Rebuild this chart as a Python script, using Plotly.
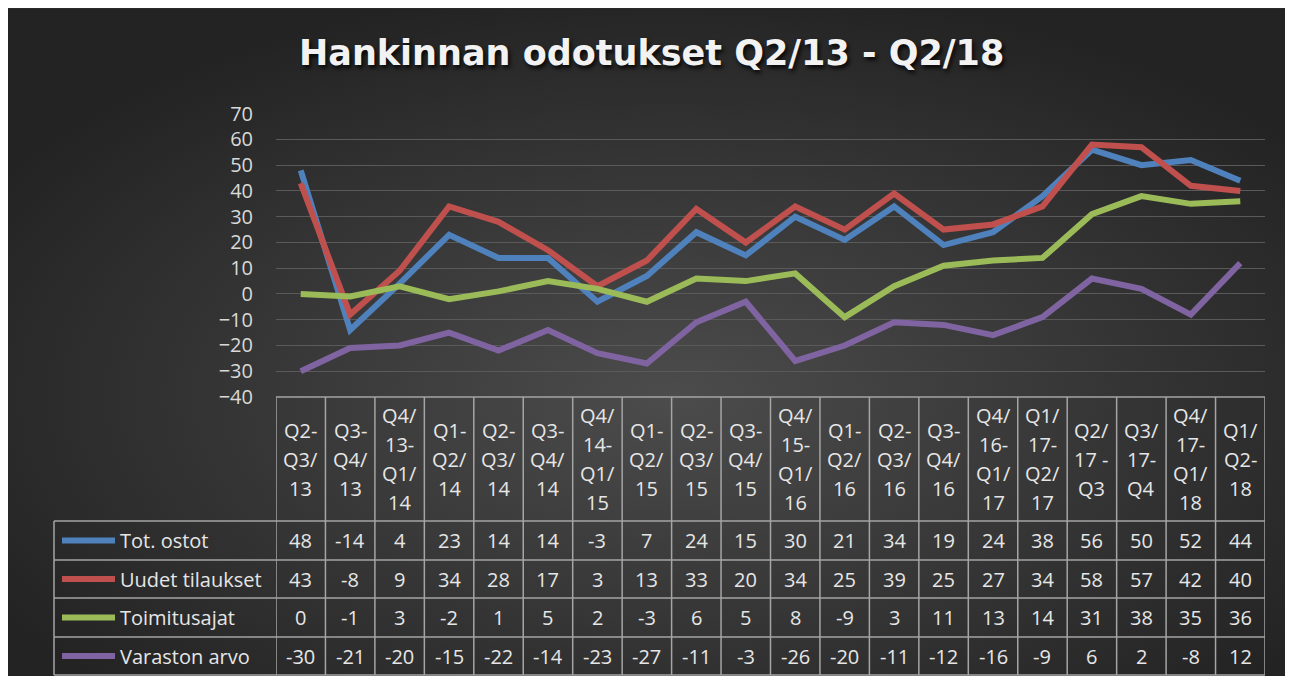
import base64
import plotly.graph_objects as go

# ---------------- data ----------------
categories = [
    ["Q2-", "Q3/", "13"], ["Q3-", "Q4/", "13"], ["Q4/", "13-", "Q1/", "14"],
    ["Q1-", "Q2/", "14"], ["Q2-", "Q3/", "14"], ["Q3-", "Q4/", "14"],
    ["Q4/", "14-", "Q1/", "15"], ["Q1-", "Q2/", "15"], ["Q2-", "Q3/", "15"],
    ["Q3-", "Q4/", "15"], ["Q4/", "15-", "Q1/", "16"], ["Q1-", "Q2/", "16"],
    ["Q2-", "Q3/", "16"], ["Q3-", "Q4/", "16"], ["Q4/", "16-", "Q1/", "17"],
    ["Q1/", "17-", "Q2/", "17"], ["Q2/", "17 -", "Q3"], ["Q3/", "17-", "Q4"],
    ["Q4/", "17-", "Q1/", "18"], ["Q1/", "Q2-", "18"],
]
series_names = ["Tot. ostot", "Uudet tilaukset", "Toimitusajat", "Varaston arvo"]
tot_ostot = [48, -14, 4, 23, 14, 14, -3, 7, 24, 15, 30, 21, 34, 19, 24, 38, 56, 50, 52, 44]
uudet_tilaukset = [43, -8, 9, 34, 28, 17, 3, 13, 33, 20, 34, 25, 39, 25, 27, 34, 58, 57, 42, 40]
toimitusajat = [0, -1, 3, -2, 1, 5, 2, -3, 6, 5, 8, -9, 3, 11, 13, 14, 31, 38, 35, 36]
varaston_arvo = [-30, -21, -20, -15, -22, -14, -23, -27, -11, -3, -26, -20, -11, -12, -16, -9, 6, 2, -8, 12]
y_ticks = [-40, -30, -20, -10, 0, 10, 20, 30, 40, 50, 60, 70]
title_text = "Hankinnan odotukset Q2/13 - Q2/18"

series_values = [tot_ostot, uudet_tilaukset, toimitusajat, varaston_arvo]
colors = ["#4f81bd", "#c0504d", "#9bbb59", "#8064a2"]

# ---------------- layout geometry (window pixels) ----------------
# measured: the paper area maps to window x 8..1285 and y 21..662
OX, OY, FW, FH = 8, 21, 1277, 641
SVG_TOP, SVG_BOTTOM = 8, 676
plot_left, plot_right = 276, 1265
plot_top, plot_bottom = 112.7, 396
header_bottom = 520
row_bounds = [520, 559, 597, 636, 674]
legend_left = 54
n = len(categories)


def px(xp):
    return (xp - OX) / FW


def py(yp):
    return 1 - (yp - OY) / FH


fig = go.Figure()
xs = list(range(n))
for name, vals, col in zip(series_names, series_values, colors):
    fig.add_trace(go.Scatter(
        x=xs, y=vals, mode="lines", name=name,
        line=dict(color=col, width=6),
        showlegend=False,
    ))

# background radial gradient (Excel dark style)
svg = (
    '<svg xmlns="http://www.w3.org/2000/svg" width="1277" height="668" '
    'viewBox="0 0 1277 668" preserveAspectRatio="none">'
    '<defs><radialGradient id="g" cx="52%" cy="58%" r="62%">'
    '<stop offset="0%" stop-color="#4c4c4c"/>'
    '<stop offset="100%" stop-color="#232323"/>'
    '</radialGradient></defs>'
    '<rect width="1277" height="668" fill="url(#g)"/></svg>'
)
src = "data:image/svg+xml;base64," + base64.b64encode(svg.encode()).decode()

shapes = []
annotations = []
grid_col = "#a5a5a5"
font_fam = "Open Sans, Noto Sans, sans-serif"
txt_col = "#e6e6e6"
fs = 20

# table vertical lines (category columns)
for i in range(n + 1):
    shapes.append(dict(type="line", xref="x", yref="paper",
                       x0=i - 0.5, x1=i - 0.5,
                       y0=py(plot_bottom), y1=py(row_bounds[-1]),
                       line=dict(color=grid_col, width=1.5)))
# header top line
shapes.append(dict(type="line", xref="x", yref="paper", x0=-0.5, x1=n - 0.5,
                   y0=py(plot_bottom), y1=py(plot_bottom),
                   line=dict(color=grid_col, width=1.5)))
# legend column left line
shapes.append(dict(type="line", xref="paper", yref="paper", x0=px(legend_left), x1=px(legend_left),
                   y0=py(row_bounds[0]), y1=py(row_bounds[-1]),
                   line=dict(color=grid_col, width=1.5)))
# row lines
for yb in row_bounds:
    shapes.append(dict(type="line", xref="paper", yref="paper",
                       x0=px(legend_left), x1=px(plot_right),
                       y0=py(yb), y1=py(yb),
                       line=dict(color=grid_col, width=1.5)))

# header labels
header_center = (plot_bottom + header_bottom) / 2
line_gap = 29
for i, lines in enumerate(categories):
    k = len(lines)
    for j, t in enumerate(lines):
        yc = header_center + (j - (k - 1) / 2) * line_gap
        annotations.append(dict(x=i, xref="x", y=py(yc), yref="paper", text=t,
                                showarrow=False, xanchor="center", yanchor="middle",
                                font=dict(family=font_fam, size=fs, color=txt_col)))

# data rows
for r, (name, vals, col) in enumerate(zip(series_names, series_values, colors)):
    yc = (row_bounds[r] + row_bounds[r + 1]) / 2
    shapes.append(dict(type="line", xref="paper", yref="paper",
                       x0=px(62), x1=px(115), y0=py(yc), y1=py(yc),
                       line=dict(color=col, width=6)))
    annotations.append(dict(x=px(118), xref="paper", y=py(yc), yref="paper", text=name,
                            showarrow=False, xanchor="left", yanchor="middle",
                            font=dict(family=font_fam, size=fs, color=txt_col)))
    for i, v in enumerate(vals):
        annotations.append(dict(x=i, xref="x", y=py(yc), yref="paper", text=str(v),
                                showarrow=False, xanchor="center", yanchor="middle",
                                font=dict(family=font_fam, size=fs, color=txt_col)))

# title
annotations.append(dict(x=px(651), xref="paper", y=py(52), yref="paper", text="<b>" + title_text + "</b>",
                        showarrow=False, xanchor="center", yanchor="middle",
                        font=dict(family="DejaVu Sans, sans-serif", size=35, color="#f2f2f2",
                                  shadow="2px 3px 4px rgba(0,0,0,0.85)")))

fig.update_layout(
    autosize=True,
    margin=dict(l=0, r=0, t=0, b=0),
    paper_bgcolor="#2a2a2a",
    plot_bgcolor="rgba(0,0,0,0)",
    images=[dict(source=src, xref="paper", yref="paper", x=0, y=py(SVG_TOP),
                 sizex=1, sizey=(SVG_BOTTOM - SVG_TOP) / FH, sizing="stretch",
                 xanchor="left", yanchor="top", layer="below")],
    xaxis=dict(domain=[px(plot_left), px(plot_right)], range=[-0.5, n - 0.5],
               showgrid=False, zeroline=False, showticklabels=False, showline=False,
               fixedrange=True),
    yaxis=dict(domain=[py(plot_bottom), py(plot_top)], range=[-40, 70],
               tickvals=y_ticks, showgrid=True, gridcolor="#5a5a5a", gridwidth=1.3,
               zeroline=False, showline=False,
               tickfont=dict(family=font_fam, size=fs, color="#d9d9d9"),
               ticklabelstandoff=22, fixedrange=True),
    shapes=shapes,
    annotations=annotations,
)

fig.write_html("out.html")
